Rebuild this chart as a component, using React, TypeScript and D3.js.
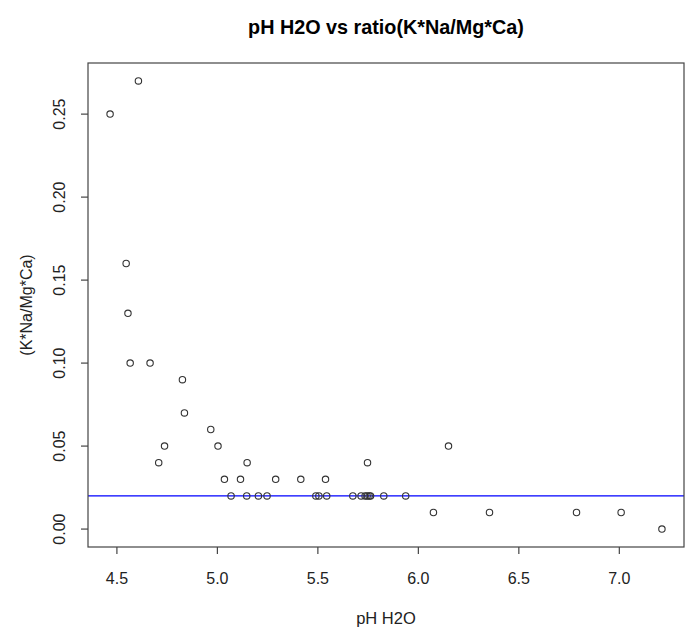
import React from "react";
import * as d3 from "d3";

const phH2O: number[] = [
  4.466, 4.607, 4.546, 4.555, 4.566, 4.665, 4.826, 4.836, 4.967, 5.003,
  4.737, 4.708, 5.148, 5.035, 5.115, 5.29, 5.415, 5.538, 6.15, 5.747,
  5.068, 5.146, 5.204, 5.247, 5.49, 5.505, 5.544, 5.674, 5.715, 5.735,
  5.745, 5.755, 5.762, 5.828, 5.937, 6.075, 6.354, 6.787, 7.009, 7.212,
];
const ratio: number[] = [
  0.25, 0.27, 0.16, 0.13, 0.10, 0.10, 0.09, 0.07, 0.06, 0.05,
  0.05, 0.04, 0.04, 0.03, 0.03, 0.03, 0.03, 0.03, 0.05, 0.04,
  0.02, 0.02, 0.02, 0.02, 0.02, 0.02, 0.02, 0.02, 0.02, 0.02,
  0.02, 0.02, 0.02, 0.02, 0.02, 0.01, 0.01, 0.01, 0.01, 0.00,
];
const xTicks: number[] = [4.5, 5.0, 5.5, 6.0, 6.5, 7.0];
const yTicks: number[] = [0.0, 0.05, 0.1, 0.15, 0.2, 0.25];
const hLineValue = 0.02;
const title = "pH H2O vs ratio(K*Na/Mg*Ca)";
const xLabel = "pH H2O";
const yLabel = "(K*Na/Mg*Ca)";

const W = 685;
const H = 627;
const left = 88;
const right = 684;
const top = 63;
const bottom = 547;
const font = "'Liberation Sans', Arial, sans-serif";

function padded(ext: [number, number]): [number, number] {
  const r = ext[1] - ext[0];
  return [ext[0] - 0.04 * r, ext[1] + 0.04 * r];
}

export default function App() {
  const xExt = d3.extent(phH2O) as [number, number];
  const yExt = d3.extent(ratio) as [number, number];
  const x = d3.scaleLinear().domain(padded(xExt)).range([left, right]);
  const y = d3.scaleLinear().domain(padded([0, yExt[1]])).range([bottom, top]);
  const ink = "#222";
  return (
    <div style={{ position: "absolute", left: 0, top: 0 }}>
      <svg width={W} height={H} style={{ display: "block", background: "#fff" }}>
        <rect x={0} y={0} width={W} height={H} fill="#fff" />
        <text x={(left + right) / 2} y={34} textAnchor="middle" fontFamily={font}
          fontWeight="bold" fontSize={19.8} fill="#000">{title}</text>
        <line x1={left} x2={right} y1={y(hLineValue)} y2={y(hLineValue)} stroke="#0000ff" strokeWidth={1.2} />
        <rect x={left} y={top} width={right - left} height={bottom - top} fill="none" stroke="#444" strokeWidth={1.2} />
        {xTicks.map((t) => (
          <g key={"x" + t}>
            <line x1={x(t)} x2={x(t)} y1={bottom} y2={bottom + 7} stroke="#444" strokeWidth={1.2} />
            <text x={x(t)} y={584} textAnchor="middle" fontFamily={font} fontSize={16} fill={ink}>
              {d3.format(".1f")(t)}
            </text>
          </g>
        ))}
        {yTicks.map((t) => (
          <g key={"y" + t}>
            <line x1={left - 7} x2={left} y1={y(t)} y2={y(t)} stroke="#444" strokeWidth={1.2} />
            <text transform={`translate(65,${y(t)}) rotate(-90)`} textAnchor="middle" fontFamily={font}
              fontSize={16} fill={ink}>
              {d3.format(".2f")(t)}
            </text>
          </g>
        ))}
        <text x={(left + right) / 2} y={624} textAnchor="middle" fontFamily={font} fontSize={16.5} fill={ink}>
          {xLabel}
        </text>
        <text transform={`translate(32,${(top + bottom) / 2}) rotate(-90)`} textAnchor="middle"
          fontFamily={font} fontSize={16} fill={ink}>
          {yLabel}
        </text>
        {phH2O.map((v, i) => (
          <circle key={i} cx={x(v)} cy={y(ratio[i])} r={3.2} fill="none" stroke="#333" strokeWidth={1.1} />
        ))}
      </svg>
    </div>
  );
}
